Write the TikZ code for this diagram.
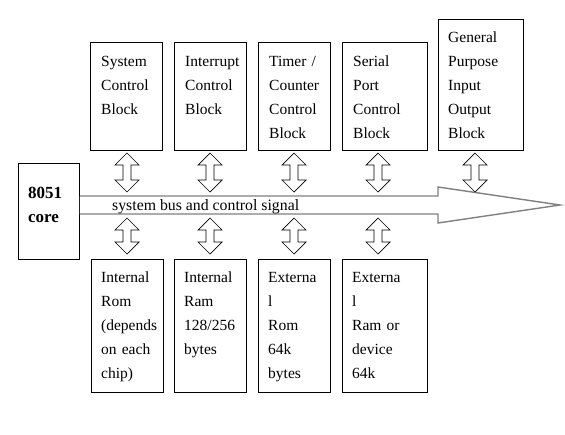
\documentclass[tikz,border=0pt]{standalone}
\usepackage{fontspec}
\setmainfont{Liberation Serif}
\begin{document}
\begin{tikzpicture}[x=1pt,y=-1pt,
  box/.style={draw=black,line width=0.8pt,fill=white,anchor=north west,inner sep=0pt},
  txt/.style={anchor=north west,inner sep=0pt,text width=75pt,align=left,
    font=\fontsize{15.5}{24}\selectfont},
  coretxt/.style={anchor=north west,inner sep=0pt,text width=55pt,align=left,
    font=\fontsize{17}{24}\bfseries\selectfont},
  bus/.style={draw=gray,line width=1.4pt,fill=white,line join=miter},
  dbl/.style={draw=black,line width=0.7pt,fill=white,line join=miter}]
\useasboundingbox (0,0) rectangle (565,434);
\newcommand{\dblarr}[3]{% x, ytop, length
  \draw[dbl] (#1,#2) -- ++(-12,12) -- ++(8,0) -- ++(0,#3-24) -- ++(-8,0)
    -- ++(12,12) -- ++(12,-12) -- ++(-8,0) -- ++(0,24-#3) -- ++(8,0) -- cycle;}
% core
\node[box,minimum width=61pt,minimum height=96pt] (core) at (18,163) {};
\node[coretxt] (coret) at ([xshift=10pt,yshift=-11pt]core.north west) {\rule{0pt}{24pt}8051\\core};
% bus arrow
\coordinate (busA) at (core.east |- 0,196);
\coordinate (busB) at (core.east |- 0,214);
\coordinate (tip) at (560,205);
\draw[bus] (busA) -- (438,196) -- (438,187) -- (tip) -- (438,223) -- (438,214) -- (busB);
\node[anchor=base west,inner sep=0pt,font=\fontsize{15.8}{24}\selectfont] (bustxt) at (112,210) {system bus and control signal};
% top boxes
\node[box,minimum width=72pt,minimum height=108pt] (sys) at (90,42) {};
\node[box,minimum width=72pt,minimum height=108pt] (intr) at (174,42) {};
\node[box,minimum width=72pt,minimum height=108pt] (tmr) at (258,42) {};
\node[box,minimum width=85pt,minimum height=108pt] (ser) at (342,42) {};
\node[box,minimum width=85pt,minimum height=131pt] (gpio) at (438,19) {};
\node[txt] (syst) at ([xshift=11pt]sys.north west) {\rule{0pt}{24pt}System\\Control\\Block};
\node[txt] (intrt) at ([xshift=11pt]intr.north west) {\rule{0pt}{24pt}Interrupt\\Control\\Block};
\node[txt] (tmrt) at ([xshift=11pt]tmr.north west) {\rule{0pt}{24pt}Timer /\\Counter\\Control\\Block};
\node[txt] (sert) at ([xshift=11pt]ser.north west) {\rule{0pt}{24pt}Serial\\Port\\Control\\Block};
\node[txt] (gpiot) at ([xshift=10pt]gpio.north west) {\rule{0pt}{23pt}General\\Purpose\\Input\\Output\\Block};
% bottom boxes
\node[box,minimum width=72pt,minimum height=133pt] (rom) at (91,259) {};
\node[box,minimum width=72pt,minimum height=133pt] (ram) at (174,259) {};
\node[box,minimum width=72pt,minimum height=133pt] (erom) at (258,259) {};
\node[box,minimum width=85pt,minimum height=133pt] (eram) at (342,259) {};
\node[txt] (romt) at ([xshift=10pt]rom.north west) {\rule{0pt}{23pt}Internal\\Rom\\(depends\\on each\\chip)};
\node[txt] (ramt) at ([xshift=10pt]ram.north west) {\rule{0pt}{23pt}Internal\\Ram\\128/256\\bytes};
\node[txt] (eromt) at ([xshift=10pt]erom.north west) {\rule{0pt}{23pt}Externa\\l\\Rom\\64k\\bytes};
\node[txt] (eramt) at ([xshift=10pt]eram.north west) {\rule{0pt}{23pt}Externa\\l\\Ram or\\device\\64k};
% double arrows
\dblarr{127}{153}{39}
\dblarr{210}{153}{39}
\dblarr{294}{153}{39}
\dblarr{378}{153}{39}
\dblarr{475}{153}{39}
\dblarr{127}{218}{36}
\dblarr{210}{218}{36}
\dblarr{294}{218}{36}
\dblarr{378}{218}{36}
\end{tikzpicture}
\end{document}
